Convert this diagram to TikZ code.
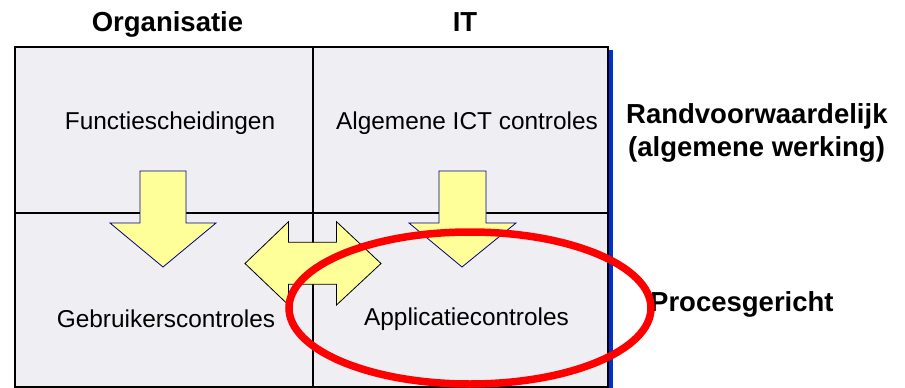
\documentclass[tikz,border=0pt]{standalone}
\usepackage{fontspec}
\setmainfont{Liberation Sans}
\begin{document}
\begin{tikzpicture}[x=1pt,y=-1pt,
  cell/.style={draw=black,line width=1.6pt,fill=cellfill,inner sep=0pt,anchor=north west},
  celltext/.style={font=\fontsize{24.4}{29}\selectfont,anchor=base,inner sep=0pt},
  headtext/.style={font=\fontsize{27.5}{33}\selectfont\bfseries,anchor=base,inner sep=0pt},
  downarrow/.style={draw=arrowline,line width=0.8pt,fill=arrowfill,line join=miter},
  dblarrow/.style={draw=black,line width=0.8pt,fill=arrowfill,line join=miter},
  ring/.style={draw=ringred,line width=7.5pt}]
\definecolor{cellfill}{HTML}{EEEEF3}
\definecolor{arrowfill}{HTML}{FFFF99}
\definecolor{arrowline}{HTML}{000080}
\definecolor{blueedge}{HTML}{0033CC}
\definecolor{ringred}{HTML}{FF0000}
\useasboundingbox (0,0) rectangle (905,388);
\clip (0,0) rectangle (905,388);
% blue edge
\fill[blueedge] (606,50) rectangle (613,388);
% cells
\node[cell,minimum width=298pt,minimum height=166pt] (c11) at (14,46) {};
\node[cell,minimum width=295pt,minimum height=166pt] (c12) at (312,46) {};
\node[cell,minimum width=298pt,minimum height=174pt] (c21) at (14,212) {};
\node[cell,minimum width=295pt,minimum height=174pt] (c22) at (312,212) {};
% headers
\node[headtext] (org) at (167.5,31.5) {Organisatie};
\node[headtext] (it) at (465,31.5) {IT};
\node[headtext,anchor=base west] (rand) at (626,123) {Randvoorwaardelijk};
\node[headtext,anchor=base west] (alg) at (628,156.5) {(algemene werking)};
\node[headtext,anchor=base west] (proc) at (650,311.5) {Procesgericht};
% cell texts
\node[celltext] (t11) at (170,129.5) {Functiescheidingen};
\node[celltext] (t12) at (467,129.5) {Algemene ICT controles};
\node[celltext] (t21) at (166,327) {Gebruikerscontroles};
\node[celltext] (t22) at (466.5,325) {Applicatiecontroles};
% down arrows
\draw[downarrow] (140,171) -- (186,171) -- (186,223) -- (216,223) -- (163,267) -- (110,223) -- (140,223) -- cycle;
\draw[downarrow] (439,171) -- (486,171) -- (486,223) -- (516,223) -- (462,267) -- (409,223) -- (439,223) -- cycle;
% double arrow
\draw[dblarrow] (245,263.5) -- (288.5,221.7) -- (288.5,242.3) -- (336.5,242.3) -- (336.5,221.7) -- (381,263.5)
  -- (336.5,305) -- (336.5,284.3) -- (288.5,284.3) -- (288.5,305) -- cycle;
% red ellipse
\draw[ring] (470,308) ellipse [x radius=181pt, y radius=76pt];
\end{tikzpicture}
\end{document}
